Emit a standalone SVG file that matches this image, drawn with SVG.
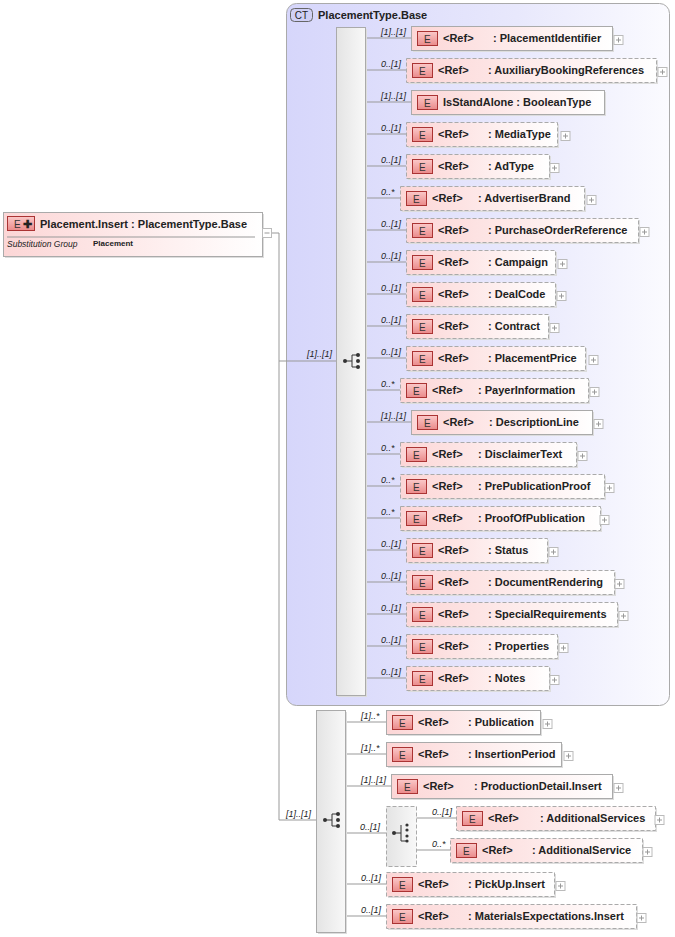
<svg xmlns="http://www.w3.org/2000/svg" width="675" height="937" viewBox="0 0 675 937">
<defs>
<linearGradient id="ct" x1="0" y1="0" x2="1" y2="0"><stop offset="0" stop-color="#d6d6fb"/><stop offset="0.6" stop-color="#e8e8fc"/><stop offset="1" stop-color="#fbfbff"/></linearGradient>
<linearGradient id="el" x1="0" y1="0" x2="1" y2="0"><stop offset="0" stop-color="#fcd6d6"/><stop offset="1" stop-color="#ffffff"/></linearGradient>
<linearGradient id="eb" x1="0" y1="0" x2="0" y2="1"><stop offset="0" stop-color="#fbc9c9"/><stop offset="1" stop-color="#ea8a8a"/></linearGradient>
<linearGradient id="bar" x1="0" y1="0" x2="1" y2="0"><stop offset="0" stop-color="#e4e4e4"/><stop offset="1" stop-color="#f8f8f8"/></linearGradient>
<g id="seqicon"><line x1="-7" y1="0" x2="0" y2="0" stroke="#333"/><line x1="0" y1="-6" x2="0" y2="6" stroke="#333"/><line x1="0" y1="-6" x2="5" y2="-6" stroke="#333"/><line x1="0" y1="6" x2="5" y2="6" stroke="#333"/><circle cx="-7" cy="0" r="2" fill="#333"/><circle cx="6" cy="-6" r="2" fill="#333"/><circle cx="6" cy="0" r="2" fill="#333"/><circle cx="6" cy="6" r="2" fill="#333"/></g>
<g id="plus"><rect x="0" y="-4.5" width="9" height="9" fill="#fff" stroke="#bbb"/><line x1="2" y1="0" x2="7" y2="0" stroke="#999"/><line x1="4.5" y1="-2.5" x2="4.5" y2="2.5" stroke="#999"/></g>
</defs>
<style>
text{font-family:"Liberation Sans",Arial,sans-serif;fill:#222}
.t{font-size:11px;font-weight:bold}
.c{font-size:9px;font-style:italic}
.bx{fill:url(#el);stroke:#aaa}
.dx{fill:url(#el);stroke:#aaa;stroke-dasharray:4,2}
.sh{fill:#ddd}
.badge{fill:url(#eb);stroke:#a33}
.bt{font-size:10px;fill:#333}
.ln{stroke:#999;fill:none}
</style>
<g id="ctbox">
<rect x="286.5" y="3.5" width="383" height="702" rx="10" fill="url(#ct)" stroke="#aaa"/>
<rect x="290.5" y="8.5" width="22" height="13" rx="4" fill="#d0d0f5" stroke="#666"/>
<text x="301.5" y="18.5" font-size="10" text-anchor="middle">CT</text>
<text x="318" y="19" class="t">PlacementType.Base</text>
</g>
<g id="connectors">
<path class="ln" d="M272,233H279V820H316M279,361H336"/>
<text x="307" y="357" class="c">[1]..[1]</text>
<text x="286" y="817" class="c">[1]..[1]</text>
<path class="ln" d="M365,38H411M365,70H406M365,102H411M365,134H406M365,166H406M365,198H400M365,230H406M365,262H406M365,294H406M365,326H406M365,358H406M365,390H400M365,422H411M365,454H400M365,486H400M365,518H400M365,550H406M365,582H406M365,614H406M365,646H406M365,678H406"/>
<path class="ln" d="M345,722H386M345,754H386M345,786H391M345,833H386M345,884H386M345,916H386M416,818H456M416,850H450"/>
</g>
<g id="main">
<rect x="5" y="214" width="259" height="44" class="sh"/>
<rect x="3.5" y="212.5" width="259" height="44" class="bx"/>
<rect x="7.5" y="216.5" width="27" height="14" class="badge"/>
<text x="14" y="227.5" class="bt">E</text>
<text x="23" y="228" font-size="11" font-weight="bold" fill="#333">✚</text>
<text x="40" y="228" class="t">Placement.Insert : PlacementType.Base</text>
<line x1="7" y1="237" x2="255" y2="237" stroke="#999"/>
<text x="7" y="247" font-size="8.5" font-style="italic">Substitution Group</text>
<text x="93" y="246" font-size="8" font-weight="bold">Placement</text>
<rect x="262.5" y="228.5" width="9" height="9" fill="#fff" stroke="#bbb"/>
<line x1="264.5" y1="233" x2="269.5" y2="233" stroke="#999"/>
</g>
<g id="seq1">
<rect x="338" y="29" width="29" height="668" class="sh"/>
<rect x="336.5" y="27.5" width="29" height="668" fill="url(#bar)" stroke="#aaa"/>
<use href="#seqicon" x="352" y="361"/>
</g>
<g id="seq2">
<rect x="318" y="712" width="29" height="222" class="sh"/>
<rect x="316.5" y="710.5" width="29" height="222" fill="url(#bar)" stroke="#aaa"/>
<use href="#seqicon" x="332" y="820"/>
</g>
<g id="choice">
<rect x="386.5" y="806.5" width="30" height="60" fill="url(#bar)" stroke="#aaa" stroke-dasharray="4,2"/>
<g transform="translate(401,833)"><line x1="-7" y1="0" x2="0" y2="0" stroke="#333"/><line x1="0" y1="-8" x2="0" y2="8" stroke="#333"/><line x1="0" y1="8" x2="5" y2="8" stroke="#333"/><circle cx="-7" cy="0" r="2" fill="#333"/><circle cx="6" cy="-8" r="1.6" fill="#333"/><circle cx="6" cy="-3" r="1.6" fill="#333"/><circle cx="6" cy="3" r="1.6" fill="#333"/><circle cx="6" cy="8" r="1.6" fill="#333"/></g>
</g>
<!-- elements: x, y-center, right, label, name, dashed, plus -->
<g id="e1"><rect x="413" y="28" width="201" height="24" class="sh"/><rect x="411.5" y="26.5" width="201" height="24" class="bx"/><rect x="417.5" y="31.5" width="20" height="14" class="badge"/><text x="424" y="42.5" class="bt">E</text><text x="443" y="42" class="t">&lt;Ref&gt;</text><text x="493" y="42" class="t">: PlacementIdentifier</text><use href="#plus" x="614" y="40"/><text x="381" y="35" class="c">[1]..[1]</text></g>
<g id="e2"><rect x="408" y="60" width="250" height="24" class="sh"/><rect x="406.5" y="58.5" width="250" height="24" class="dx"/><rect x="412.5" y="63.5" width="20" height="14" class="badge"/><text x="419" y="74.5" class="bt">E</text><text x="438" y="74" class="t">&lt;Ref&gt;</text><text x="488" y="74" class="t">: AuxiliaryBookingReferences</text><use href="#plus" x="658" y="72"/><text x="381" y="67" class="c">0..[1]</text></g>
<g id="e3"><rect x="413" y="92" width="193" height="24" class="sh"/><rect x="411.5" y="90.5" width="193" height="24" class="bx"/><rect x="417.5" y="95.5" width="20" height="14" class="badge"/><text x="424" y="106.5" class="bt">E</text><text x="443" y="106" class="t">IsStandAlone : BooleanType</text><text x="381" y="99" class="c">[1]..[1]</text></g>
<g id="e4"><rect x="408" y="124" width="151" height="24" class="sh"/><rect x="406.5" y="122.5" width="151" height="24" class="dx"/><rect x="412.5" y="127.5" width="20" height="14" class="badge"/><text x="419" y="138.5" class="bt">E</text><text x="438" y="138" class="t">&lt;Ref&gt;</text><text x="488" y="138" class="t">: MediaType</text><use href="#plus" x="561" y="136"/><text x="381" y="131" class="c">0..[1]</text></g>
<g id="e5"><rect x="408" y="156" width="143" height="24" class="sh"/><rect x="406.5" y="154.5" width="143" height="24" class="dx"/><rect x="412.5" y="159.5" width="20" height="14" class="badge"/><text x="419" y="170.5" class="bt">E</text><text x="438" y="170" class="t">&lt;Ref&gt;</text><text x="488" y="170" class="t">: AdType</text><use href="#plus" x="550" y="168"/><text x="381" y="163" class="c">0..[1]</text></g>
<g id="e6"><rect x="402" y="188" width="184" height="24" class="sh"/><rect x="400.5" y="186.5" width="184" height="24" class="dx"/><rect x="406.5" y="191.5" width="20" height="14" class="badge"/><text x="413" y="202.5" class="bt">E</text><text x="432" y="202" class="t">&lt;Ref&gt;</text><text x="478" y="202" class="t">: AdvertiserBrand</text><use href="#plus" x="587" y="200"/><text x="381" y="195" class="c">0..*</text></g>
<g id="e7"><rect x="408" y="220" width="232" height="24" class="sh"/><rect x="406.5" y="218.5" width="232" height="24" class="dx"/><rect x="412.5" y="223.5" width="20" height="14" class="badge"/><text x="419" y="234.5" class="bt">E</text><text x="438" y="234" class="t">&lt;Ref&gt;</text><text x="488" y="234" class="t">: PurchaseOrderReference</text><use href="#plus" x="640" y="232"/><text x="381" y="227" class="c">0..[1]</text></g>
<g id="e8"><rect x="408" y="252" width="149" height="24" class="sh"/><rect x="406.5" y="250.5" width="149" height="24" class="dx"/><rect x="412.5" y="255.5" width="20" height="14" class="badge"/><text x="419" y="266.5" class="bt">E</text><text x="438" y="266" class="t">&lt;Ref&gt;</text><text x="488" y="266" class="t">: Campaign</text><use href="#plus" x="558" y="264"/><text x="381" y="259" class="c">0..[1]</text></g>
<g id="e9"><rect x="408" y="284" width="149" height="24" class="sh"/><rect x="406.5" y="282.5" width="149" height="24" class="dx"/><rect x="412.5" y="287.5" width="20" height="14" class="badge"/><text x="419" y="298.5" class="bt">E</text><text x="438" y="298" class="t">&lt;Ref&gt;</text><text x="488" y="298" class="t">: DealCode</text><use href="#plus" x="557" y="296"/><text x="381" y="291" class="c">0..[1]</text></g>
<g id="e10"><rect x="408" y="316" width="142" height="24" class="sh"/><rect x="406.5" y="314.5" width="142" height="24" class="dx"/><rect x="412.5" y="319.5" width="20" height="14" class="badge"/><text x="419" y="330.5" class="bt">E</text><text x="438" y="330" class="t">&lt;Ref&gt;</text><text x="488" y="330" class="t">: Contract</text><use href="#plus" x="550" y="328"/><text x="381" y="323" class="c">0..[1]</text></g>
<g id="e11"><rect x="408" y="348" width="179" height="24" class="sh"/><rect x="406.5" y="346.5" width="179" height="24" class="dx"/><rect x="412.5" y="351.5" width="20" height="14" class="badge"/><text x="419" y="362.5" class="bt">E</text><text x="438" y="362" class="t">&lt;Ref&gt;</text><text x="488" y="362" class="t">: PlacementPrice</text><use href="#plus" x="589" y="360"/><text x="381" y="355" class="c">0..[1]</text></g>
<g id="e12"><rect x="402" y="380" width="188" height="24" class="sh"/><rect x="400.5" y="378.5" width="188" height="24" class="dx"/><rect x="406.5" y="383.5" width="20" height="14" class="badge"/><text x="413" y="394.5" class="bt">E</text><text x="432" y="394" class="t">&lt;Ref&gt;</text><text x="478" y="394" class="t">: PayerInformation</text><use href="#plus" x="590" y="392"/><text x="381" y="387" class="c">0..*</text></g>
<g id="e13"><rect x="413" y="412" width="181" height="24" class="sh"/><rect x="411.5" y="410.5" width="181" height="24" class="bx"/><rect x="417.5" y="415.5" width="20" height="14" class="badge"/><text x="424" y="426.5" class="bt">E</text><text x="443" y="426" class="t">&lt;Ref&gt;</text><text x="489" y="426" class="t">: DescriptionLine</text><use href="#plus" x="594" y="424"/><text x="381" y="419" class="c">[1]..[1]</text></g>
<g id="e14"><rect x="402" y="444" width="176" height="24" class="sh"/><rect x="400.5" y="442.5" width="176" height="24" class="dx"/><rect x="406.5" y="447.5" width="20" height="14" class="badge"/><text x="413" y="458.5" class="bt">E</text><text x="432" y="458" class="t">&lt;Ref&gt;</text><text x="478" y="458" class="t">: DisclaimerText</text><use href="#plus" x="578" y="456"/><text x="381" y="451" class="c">0..*</text></g>
<g id="e15"><rect x="402" y="476" width="204" height="24" class="sh"/><rect x="400.5" y="474.5" width="204" height="24" class="dx"/><rect x="406.5" y="479.5" width="20" height="14" class="badge"/><text x="413" y="490.5" class="bt">E</text><text x="432" y="490" class="t">&lt;Ref&gt;</text><text x="478" y="490" class="t">: PrePublicationProof</text><use href="#plus" x="605" y="488"/><text x="381" y="483" class="c">0..*</text></g>
<g id="e16"><rect x="402" y="508" width="200" height="24" class="sh"/><rect x="400.5" y="506.5" width="200" height="24" class="dx"/><rect x="406.5" y="511.5" width="20" height="14" class="badge"/><text x="413" y="522.5" class="bt">E</text><text x="432" y="522" class="t">&lt;Ref&gt;</text><text x="478" y="522" class="t">: ProofOfPublication</text><use href="#plus" x="600" y="520"/><text x="381" y="515" class="c">0..*</text></g>
<g id="e17"><rect x="408" y="540" width="141" height="24" class="sh"/><rect x="406.5" y="538.5" width="141" height="24" class="dx"/><rect x="412.5" y="543.5" width="20" height="14" class="badge"/><text x="419" y="554.5" class="bt">E</text><text x="438" y="554" class="t">&lt;Ref&gt;</text><text x="488" y="554" class="t">: Status</text><use href="#plus" x="549" y="552"/><text x="381" y="547" class="c">0..[1]</text></g>
<g id="e18"><rect x="408" y="572" width="208" height="24" class="sh"/><rect x="406.5" y="570.5" width="208" height="24" class="dx"/><rect x="412.5" y="575.5" width="20" height="14" class="badge"/><text x="419" y="586.5" class="bt">E</text><text x="438" y="586" class="t">&lt;Ref&gt;</text><text x="488" y="586" class="t">: DocumentRendering</text><use href="#plus" x="615" y="584"/><text x="381" y="579" class="c">0..[1]</text></g>
<g id="e19"><rect x="408" y="604" width="211" height="24" class="sh"/><rect x="406.5" y="602.5" width="211" height="24" class="dx"/><rect x="412.5" y="607.5" width="20" height="14" class="badge"/><text x="419" y="618.5" class="bt">E</text><text x="438" y="618" class="t">&lt;Ref&gt;</text><text x="488" y="618" class="t">: SpecialRequirements</text><use href="#plus" x="619" y="616"/><text x="381" y="611" class="c">0..[1]</text></g>
<g id="e20"><rect x="408" y="636" width="151" height="24" class="sh"/><rect x="406.5" y="634.5" width="151" height="24" class="dx"/><rect x="412.5" y="639.5" width="20" height="14" class="badge"/><text x="419" y="650.5" class="bt">E</text><text x="438" y="650" class="t">&lt;Ref&gt;</text><text x="488" y="650" class="t">: Properties</text><use href="#plus" x="559" y="648"/><text x="381" y="643" class="c">0..[1]</text></g>
<g id="e21"><rect x="408" y="668" width="143" height="24" class="sh"/><rect x="406.5" y="666.5" width="143" height="24" class="dx"/><rect x="412.5" y="671.5" width="20" height="14" class="badge"/><text x="419" y="682.5" class="bt">E</text><text x="438" y="682" class="t">&lt;Ref&gt;</text><text x="488" y="682" class="t">: Notes</text><use href="#plus" x="550" y="680"/><text x="381" y="675" class="c">0..[1]</text></g>
<g id="p1"><rect x="388" y="712" width="154" height="24" class="sh"/><rect x="386.5" y="710.5" width="154" height="24" class="bx"/><rect x="392.5" y="715.5" width="20" height="14" class="badge"/><text x="399" y="726.5" class="bt">E</text><text x="418" y="726" class="t">&lt;Ref&gt;</text><text x="468" y="726" class="t">: Publication</text><use href="#plus" x="543" y="724"/><text x="361" y="719" class="c">[1]..*</text></g>
<g id="p2"><rect x="388" y="744" width="175" height="24" class="sh"/><rect x="386.5" y="742.5" width="175" height="24" class="bx"/><rect x="392.5" y="747.5" width="20" height="14" class="badge"/><text x="399" y="758.5" class="bt">E</text><text x="418" y="758" class="t">&lt;Ref&gt;</text><text x="468" y="758" class="t">: InsertionPeriod</text><use href="#plus" x="564" y="756"/><text x="361" y="751" class="c">[1]..*</text></g>
<g id="p3"><rect x="393" y="776" width="221" height="24" class="sh"/><rect x="391.5" y="774.5" width="221" height="24" class="bx"/><rect x="397.5" y="779.5" width="20" height="14" class="badge"/><text x="404" y="790.5" class="bt">E</text><text x="423" y="790" class="t">&lt;Ref&gt;</text><text x="474" y="790" class="t">: ProductionDetail.Insert</text><use href="#plus" x="614" y="788"/><text x="361" y="783" class="c">[1]..[1]</text></g>
<g id="p4"><rect x="458" y="808" width="199" height="24" class="sh"/><rect x="456.5" y="806.5" width="199" height="24" class="dx"/><rect x="462.5" y="811.5" width="20" height="14" class="badge"/><text x="469" y="822.5" class="bt">E</text><text x="488" y="822" class="t">&lt;Ref&gt;</text><text x="540" y="822" class="t">: AdditionalServices</text><use href="#plus" x="655" y="820"/><text x="432" y="815" class="c">0..[1]</text></g>
<g id="p5"><rect x="452" y="840" width="192" height="24" class="sh"/><rect x="450.5" y="838.5" width="192" height="24" class="dx"/><rect x="456.5" y="843.5" width="20" height="14" class="badge"/><text x="463" y="854.5" class="bt">E</text><text x="482" y="854" class="t">&lt;Ref&gt;</text><text x="532" y="854" class="t">: AdditionalService</text><use href="#plus" x="643" y="852"/><text x="432" y="847" class="c">0..*</text></g>
<g id="p6"><rect x="388" y="874" width="168" height="24" class="sh"/><rect x="386.5" y="872.5" width="168" height="24" class="dx"/><rect x="392.5" y="877.5" width="20" height="14" class="badge"/><text x="399" y="888.5" class="bt">E</text><text x="418" y="888" class="t">&lt;Ref&gt;</text><text x="468" y="888" class="t">: PickUp.Insert</text><use href="#plus" x="556" y="886"/><text x="361" y="881" class="c">0..[1]</text></g>
<g id="p7"><rect x="388" y="906" width="250" height="24" class="sh"/><rect x="386.5" y="904.5" width="250" height="24" class="dx"/><rect x="392.5" y="909.5" width="20" height="14" class="badge"/><text x="399" y="920.5" class="bt">E</text><text x="418" y="920" class="t">&lt;Ref&gt;</text><text x="468" y="920" class="t">: MaterialsExpectations.Insert</text><use href="#plus" x="637" y="918"/><text x="361" y="913" class="c">0..[1]</text></g>
<text x="360" y="830" class="c">0..[1]</text>
</svg>
